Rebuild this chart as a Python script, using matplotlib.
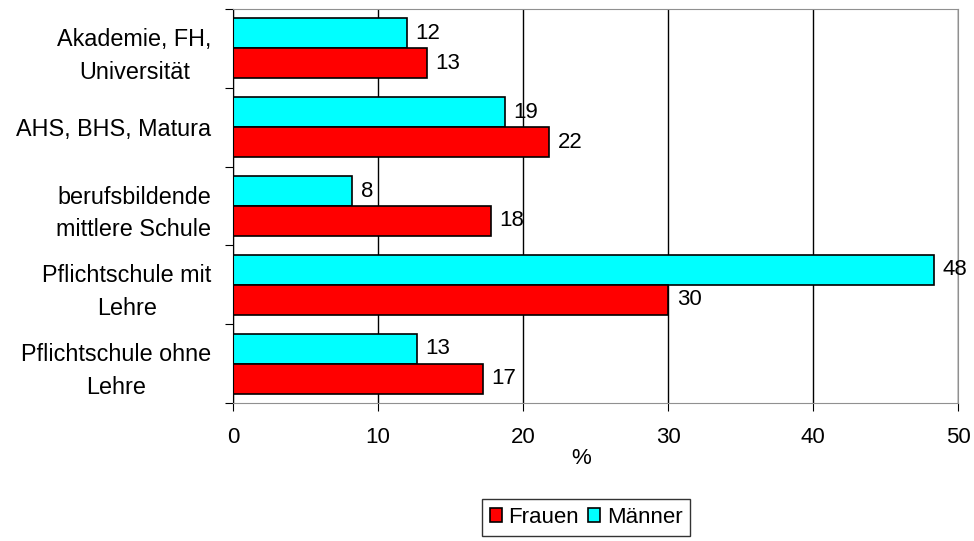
import matplotlib.pyplot as plt
import numpy as np

plt.rcParams['font.family'] = ['Liberation Sans', 'DejaVu Sans']

categories = ["Akademie, FH,\nUniversität", "AHS, BHS, Matura",
              "berufsbildende\nmittlere Schule", "Pflichtschule mit\nLehre",
              "Pflichtschule ohne\nLehre"]
maenner = [11.98, 18.76, 8.23, 48.37, 12.67]
frauen = [13.35, 21.8, 17.77, 30.02, 17.22]
maenner_labels = ["12", "19", "8", "48", "13"]
frauen_labels = ["13", "22", "18", "30", "17"]

fig = plt.figure(figsize=(9.74, 5.41), dpi=100)
ax = fig.add_axes([233/974, 1-403/541, 725/974, 394/541])

y = np.arange(len(categories))
h = 0.38
ax.set_axisbelow(True)
bm = ax.barh(y - h/2, maenner, height=h, color="#00ffff", edgecolor="black", linewidth=1.2, label="Männer")
bf = ax.barh(y + h/2, frauen, height=h, color="#ff0000", edgecolor="black", linewidth=1.2, label="Frauen")

fs = 16
for yy, v, t in zip(y - h/2, maenner, maenner_labels):
    ax.annotate(t, (v, yy), xytext=(6, 0), textcoords="offset points",
                va="center", ha="left", fontsize=fs)
for yy, v, t in zip(y + h/2, frauen, frauen_labels):
    ax.annotate(t, (v, yy), xytext=(6, 0), textcoords="offset points",
                va="center", ha="left", fontsize=fs)

ax.set_xlim(0, 50)
ax.set_ylim(len(categories) - 0.5, -0.5)
ax.set_xticks([0, 10, 20, 30, 40, 50])
ax.tick_params(axis="x", labelsize=fs, length=6, direction="out", pad=11)
ax.xaxis.grid(True, color="black", linewidth=1)

# category boundaries as major ticks, labels on minor ticks
ax.set_yticks(np.arange(len(categories) + 1) - 0.5)
ax.set_yticklabels([])
ax.set_yticks(y, minor=True)
ax.set_yticklabels(categories, minor=True, fontsize=16.8, ha="right",
                   multialignment="center", linespacing=1.55)
ax.tick_params(axis="y", which="major", length=6, direction="out")
ax.tick_params(axis="y", which="minor", length=0, pad=15.5)

ax.spines["left"].set_color("black")
for s in ["top", "right", "bottom"]:
    ax.spines[s].set_color("#909090")

ax.text((581.5-233)/725, -56/394, "%", transform=ax.transAxes, ha="center", va="center", fontsize=fs)

leg = fig.legend(handles=[bf, bm], labels=["Frauen", "Männer"], ncol=2,
                 loc="upper center", bbox_to_anchor=(586/974, 1-499/541),
                 fontsize=fs, frameon=True, fancybox=False, edgecolor="black",
                 handlelength=0.55, handleheight=0.55, handletextpad=0.3,
                 columnspacing=0.4, borderpad=0.35, borderaxespad=0)
leg.get_frame().set_linewidth(1)

fig.savefig("out.png", dpi=100)
